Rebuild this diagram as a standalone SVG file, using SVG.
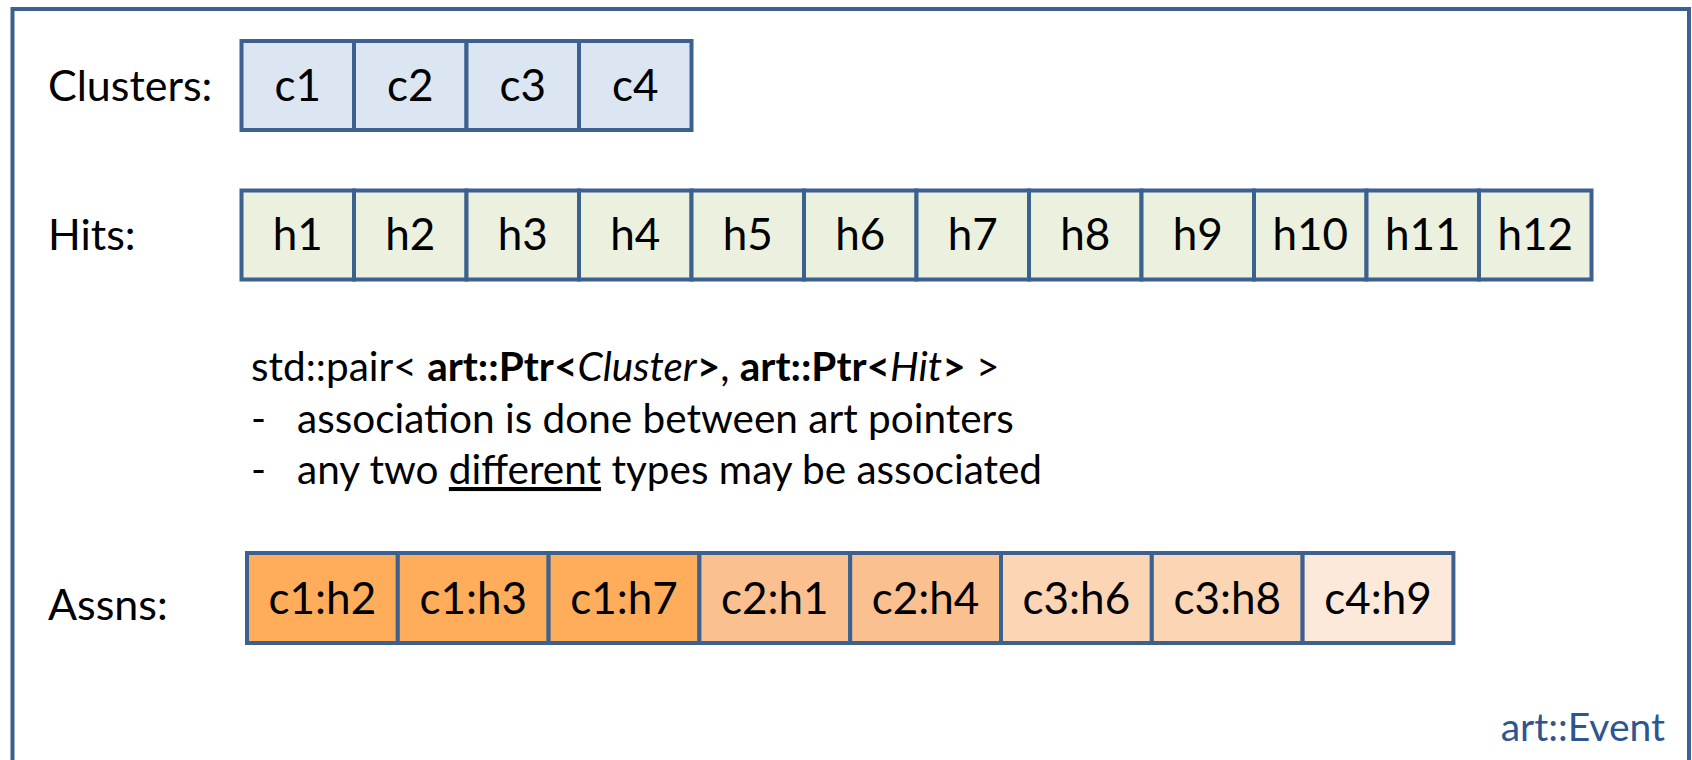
<svg xmlns="http://www.w3.org/2000/svg" width="1692" height="760" viewBox="0 0 1692 760">
  <style>
    .frame { fill: none; stroke: #3C6090; stroke-width: 4; }
    .cell rect { stroke: #3C6090; stroke-width: 4; }
    .cl rect { fill: #DCE6F2; }
    .hit rect { fill: #EBF1DE; }
    .a1 rect { fill: #FFAD5B; }
    .a2 rect { fill: #FAC090; }
    .a3 rect { fill: #FCD5B5; }
    .a4 rect { fill: #FDE9D9; }
    text { font-family: Lato, "Open Sans", sans-serif; fill: #000; }
    .lbl { font-size: 43px; }
    .cell text { font-size: 44px; text-anchor: middle; }
    .body { font-size: 40.5px; }
    .b { font-weight: bold; }
    .i { font-style: italic; }
    .u { text-decoration: underline; }
    .ev { font-size: 39px; fill: #2F5590; text-anchor: end; }
  </style>

  <rect x="0" y="0" width="1692" height="760" fill="#FFFFFF"/>

  <!-- event frame, open at the bottom edge -->
  <rect class="frame" x="12.5" y="9" width="1676.5" height="800"/>

  <!-- row labels -->
  <g id="labels">
    <text class="lbl" x="48" y="101">Clusters:</text>
    <text class="lbl" x="48" y="250">Hits:</text>
    <text class="lbl" x="48" y="620">Assns:</text>
  </g>

  <!-- cluster collection -->
  <g id="clusters">
    <g id="c1" class="cell cl"><rect x="241.5" y="41" width="112.5" height="89"/><text x="297.75" y="101">c1</text></g>
    <g id="c2" class="cell cl"><rect x="354" y="41" width="112.5" height="89"/><text x="410.25" y="101">c2</text></g>
    <g id="c3" class="cell cl"><rect x="466.5" y="41" width="112.5" height="89"/><text x="522.75" y="101">c3</text></g>
    <g id="c4" class="cell cl"><rect x="579" y="41" width="112.5" height="89"/><text x="635.25" y="101">c4</text></g>
  </g>

  <!-- hit collection -->
  <g id="hits">
    <g id="h1" class="cell hit"><rect x="241.5" y="190.5" width="112.5" height="89"/><text x="297.75" y="250">h1</text></g>
    <g id="h2" class="cell hit"><rect x="354" y="190.5" width="112.5" height="89"/><text x="410.25" y="250">h2</text></g>
    <g id="h3" class="cell hit"><rect x="466.5" y="190.5" width="112.5" height="89"/><text x="522.75" y="250">h3</text></g>
    <g id="h4" class="cell hit"><rect x="579" y="190.5" width="112.5" height="89"/><text x="635.25" y="250">h4</text></g>
    <g id="h5" class="cell hit"><rect x="691.5" y="190.5" width="112.5" height="89"/><text x="747.75" y="250">h5</text></g>
    <g id="h6" class="cell hit"><rect x="804" y="190.5" width="112.5" height="89"/><text x="860.25" y="250">h6</text></g>
    <g id="h7" class="cell hit"><rect x="916.5" y="190.5" width="112.5" height="89"/><text x="972.75" y="250">h7</text></g>
    <g id="h8" class="cell hit"><rect x="1029" y="190.5" width="112.5" height="89"/><text x="1085.25" y="250">h8</text></g>
    <g id="h9" class="cell hit"><rect x="1141.5" y="190.5" width="112.5" height="89"/><text x="1197.75" y="250">h9</text></g>
    <g id="h10" class="cell hit"><rect x="1254" y="190.5" width="112.5" height="89"/><text x="1310.25" y="250">h10</text></g>
    <g id="h11" class="cell hit"><rect x="1366.5" y="190.5" width="112.5" height="89"/><text x="1422.75" y="250">h11</text></g>
    <g id="h12" class="cell hit"><rect x="1479" y="190.5" width="112.5" height="89"/><text x="1535.25" y="250">h12</text></g>
  </g>

  <!-- description of the association element type -->
  <g id="description" class="body">
    <text x="251" y="381">std::pair&lt; <tspan class="b">art::Ptr&lt;</tspan><tspan class="i">Cluster</tspan><tspan class="b">&gt;</tspan>, <tspan class="b">art::Ptr&lt;</tspan><tspan class="i">Hit</tspan><tspan class="b">&gt;</tspan> &gt;</text>
    <text x="251" y="432.5">-</text>
    <text x="297" y="432.5">association is done between art pointers</text>
    <text x="251" y="484">-</text>
    <text x="297" y="484">any two <tspan class="u">different</tspan> types may be associated</text>
  </g>

  <!-- association collection -->
  <g id="assns">
    <g id="c1h2" class="cell a1"><rect x="247" y="553" width="150.8" height="90"/><text x="322.4" y="614">c1:h2</text></g>
    <g id="c1h3" class="cell a1"><rect x="397.8" y="553" width="150.8" height="90"/><text x="473.2" y="614">c1:h3</text></g>
    <g id="c1h7" class="cell a1"><rect x="548.6" y="553" width="150.8" height="90"/><text x="624" y="614">c1:h7</text></g>
    <g id="c2h1" class="cell a2"><rect x="699.4" y="553" width="150.8" height="90"/><text x="774.8" y="614">c2:h1</text></g>
    <g id="c2h4" class="cell a2"><rect x="850.2" y="553" width="150.8" height="90"/><text x="925.6" y="614">c2:h4</text></g>
    <g id="c3h6" class="cell a3"><rect x="1001" y="553" width="150.8" height="90"/><text x="1076.4" y="614">c3:h6</text></g>
    <g id="c3h8" class="cell a3"><rect x="1151.8" y="553" width="150.8" height="90"/><text x="1227.2" y="614">c3:h8</text></g>
    <g id="c4h9" class="cell a4"><rect x="1302.6" y="553" width="150.8" height="90"/><text x="1378" y="614">c4:h9</text></g>
  </g>

  <text class="ev" x="1665" y="741">art::Event</text>
</svg>
